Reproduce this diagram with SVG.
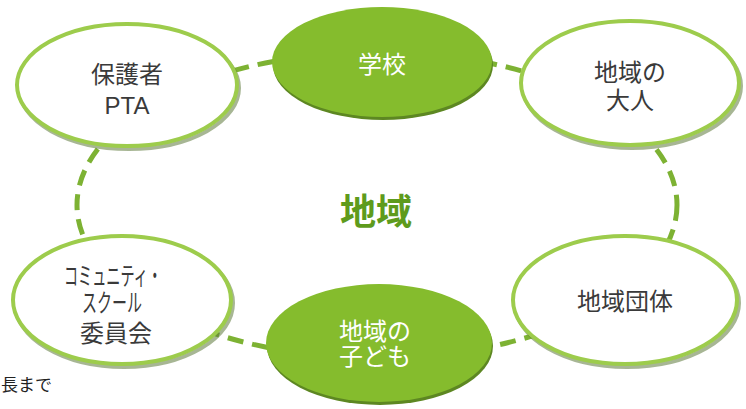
<svg xmlns="http://www.w3.org/2000/svg" width="746" height="409" viewBox="0 0 746 409">
<style>
.t{font-family:"Liberation Sans","Noto Sans CJK JP",sans-serif;font-size:24px;text-anchor:middle;fill:#3a3a3a}
.k{font-size:25px}
.w{fill:#ffffff}
.ring{fill:#ffffff;stroke:#9dcc4c;stroke-width:4}
.ringsh{fill:none;stroke:#5f7a3c;stroke-width:4;opacity:0.55}
.solid{fill:#85bc2d}
.solidsh{fill:#5d8722}
.conn{fill:none;stroke:#7db233;stroke-width:5;stroke-dasharray:16 9}
</style>
<rect width="746" height="409" fill="#ffffff"/>
<g id="connectors">
<ellipse class="conn" cx="377" cy="205" rx="300" ry="153"/>
</g>
<text x="376" y="225" style="font-family:'Noto Sans CJK JP',sans-serif;font-size:36px;font-weight:bold;fill:#5e9b1c;text-anchor:middle">地域</text>
<g id="hogosha">
<ellipse class="ringsh" cx="129" cy="88" rx="110" ry="61"/>
<ellipse class="ring" cx="127" cy="85" rx="110" ry="61"/>
<text class="t" x="127" y="83">保護者</text>
<text class="t" x="127" y="114">PTA</text>
</g>
<g id="gakko">
<ellipse class="solidsh" cx="383" cy="65" rx="110" ry="55"/>
<ellipse class="solid" cx="382" cy="62" rx="110" ry="55"/>
<text class="t w" x="382" y="73">学校</text>
</g>
<g id="otona">
<ellipse class="ringsh" cx="632" cy="86" rx="109" ry="62"/>
<ellipse class="ring" cx="630" cy="83" rx="109" ry="62"/>
<text class="t" x="630" y="81">地域の</text>
<text class="t" x="630" y="109">大人</text>
</g>
<g id="community">
<ellipse class="ringsh" cx="124" cy="303" rx="109" ry="64"/>
<ellipse class="ring" cx="122" cy="300" rx="109" ry="64"/>
<text class="t k" x="113" y="285" textLength="98" lengthAdjust="spacingAndGlyphs">コミュニティ・</text>
<text class="t k" x="112" y="312" textLength="60" lengthAdjust="spacingAndGlyphs">スクール</text>
<text class="t" x="116" y="342">委員会</text>
</g>
<g id="kodomo">
<ellipse class="solidsh" cx="380" cy="346" rx="113" ry="59"/>
<ellipse class="solid" cx="379" cy="343" rx="113" ry="59"/>
<text class="t w" x="375" y="340">地域の</text>
<text class="t w" x="375" y="365">子ども</text>
</g>
<g id="dantai">
<ellipse class="ringsh" cx="627" cy="303" rx="112" ry="64"/>
<ellipse class="ring" cx="625" cy="300" rx="112" ry="64"/>
<text class="t" x="625" y="310">地域団体</text>
</g>
<text x="1" y="391" style="font-family:'Noto Sans CJK JP',sans-serif;font-size:17px;fill:#222">長まで</text>
</svg>
